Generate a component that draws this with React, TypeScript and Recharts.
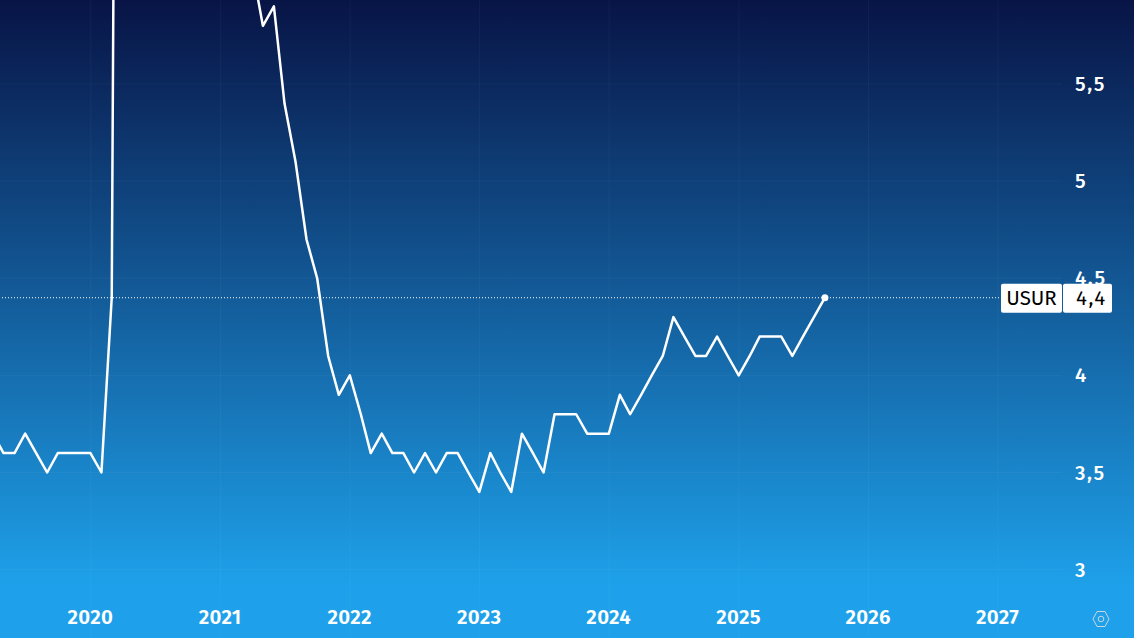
import React from "react";
import { LineChart, Line, XAxis, YAxis, CartesianGrid, ReferenceLine } from "recharts";

const months = [
  "2019-03","2019-04","2019-05","2019-06","2019-07","2019-08","2019-09","2019-10","2019-11","2019-12",
  "2020-01","2020-02","2020-03","2020-04","2020-05","2020-06","2020-07","2020-08","2020-09","2020-10","2020-11","2020-12",
  "2021-01","2021-02","2021-03","2021-04","2021-05","2021-06","2021-07","2021-08","2021-09","2021-10","2021-11","2021-12",
  "2022-01","2022-02","2022-03","2022-04","2022-05","2022-06","2022-07","2022-08","2022-09","2022-10","2022-11","2022-12",
  "2023-01","2023-02","2023-03","2023-04","2023-05","2023-06","2023-07","2023-08","2023-09","2023-10","2023-11","2023-12",
  "2024-01","2024-02","2024-03","2024-04","2024-05","2024-06","2024-07","2024-08","2024-09","2024-10","2024-11","2024-12",
  "2025-01","2025-02","2025-03","2025-04","2025-05","2025-06","2025-07","2025-08",
];
const unemployment = [
  3.7,3.6,3.6,3.7,3.6,3.5,3.6,3.6,3.6,3.6,
  3.5,4.4,14.8,13.2,11.0,10.2,8.4,7.8,6.9,6.7,6.7,6.4,
  6.2,6.1,6.1,5.8,5.9,5.4,5.1,4.7,4.5,4.1,3.9,4.0,
  3.8,3.6,3.7,3.6,3.6,3.5,3.6,3.5,3.6,3.6,3.5,3.4,
  3.6,3.5,3.4,3.7,3.6,3.5,3.8,3.8,3.8,3.7,3.7,3.7,
  3.9,3.8,3.9,4.0,4.1,4.3,4.2,4.1,4.1,4.2,4.1,4.0,
  4.1,4.2,4.2,4.2,4.1,4.2,4.3,4.4,
];
const yearTicks = [2020, 2021, 2022, 2023, 2024, 2025, 2026, 2027];
const valueTicks = [3, 3.5, 4, 4.5, 5, 5.5];
const symbol = "USUR";
const lastValue = 4.4;

const W = 1134, H = 638, PLOT_W = 1062;
const PX_PER_YEAR = 129.6, X_2020 = 90.8;
const YEAR_MS = 365.25 * 86400000;
const t2020 = Date.UTC(2020, 0, 1);
const xDomain = [t2020 - (X_2020 / PX_PER_YEAR) * YEAR_MS, t2020 + ((PLOT_W - X_2020) / PX_PER_YEAR) * YEAR_MS];
const FONT = "'Fira Sans', 'Open Sans', 'Noto Sans', sans-serif";

const monthEnd = (m: string) => {
  const [y, mo] = m.split("-").map(Number);
  return Date.UTC(y, mo, 0);
};
const data = months.map((m, i) => ({ t: monthEnd(m), v: unemployment[i] }));
const fmt = (v: number) => String(v).replace(".", ",");

const YTick = (p: any) => (
  <text x={1075} y={p.y + 7} fill="#fff" fontSize={20.5} fontWeight={500} letterSpacing={1.5} fontFamily={FONT} textAnchor="start">
    {fmt(p.payload.value)}
  </text>
);
const XTick = (p: any) => (
  <text x={p.x - 0.5} y={624} fill="#fff" fontSize={20.5} fontWeight={600} letterSpacing={0.3} fontFamily={FONT} textAnchor="middle">
    {new Date(p.payload.value).getUTCFullYear()}
  </text>
);
const Badge = (p: any) => {
  const y = p.viewBox.y;
  return (
    <g fontFamily={FONT} fontSize={20.5} fontWeight={400}>
      <rect x={1001} y={y - 14} width={61} height={29} rx={2} fill="#fff" />
      <rect x={1063} y={y - 14} width={49} height={29} rx={2} fill="#fff" />
      <text x={1031.5} y={y + 7} fill="#000" textAnchor="middle">{symbol}</text>
      <text x={1076} y={y + 7} fill="#000" textAnchor="start" letterSpacing={1.5}>{fmt(lastValue)}</text>
    </g>
  );
};
const EndDot = (p: any) =>
  p.index === data.length - 1 ? <circle key="end" cx={p.cx} cy={p.cy} r={3.5} fill="#fff" /> : <g key={p.index} />;

export default function App() {
  return (
    <div style={{ position: "absolute", left: 0, top: 0, width: W, height: H, overflow: "hidden",
      background: "linear-gradient(180deg, #081446 0%, #1ea1ea 92%, #1ea1ea 100%)" }}>
      <LineChart width={W} height={H} data={data} margin={{ top: 0, right: 0, bottom: 0, left: 0 }}>
        <CartesianGrid stroke="rgba(255,255,255,0.04)" strokeWidth={1}
          horizontalValues={valueTicks} verticalValues={yearTicks.map((y) => Date.UTC(y, 0, 1))} />
        <XAxis dataKey="t" type="number" scale="linear" domain={xDomain} allowDataOverflow
          ticks={yearTicks.map((y) => Date.UTC(y, 0, 1))} tick={XTick} axisLine={false} tickLine={false} height={1} interval={0} />
        <YAxis orientation="right" type="number" domain={[2.653, 5.933]} allowDataOverflow
          ticks={valueTicks} tick={YTick} axisLine={false} tickLine={false} width={72} interval={0} />
        <Line dataKey="v" stroke="#fff" strokeWidth={2.5} dot={EndDot} activeDot={false} isAnimationActive={false} strokeLinejoin="round" />
        <ReferenceLine y={lastValue} stroke="#fff" strokeWidth={1} strokeDasharray="1 2" label={Badge} ifOverflow="visible" />
      </LineChart>
      <svg width={30} height={30} style={{ position: "absolute", left: 1086, top: 604 }}>
        <polygon points="7,15 11,7.5 19,7.5 23,15 19,22.5 11,22.5" fill="none" stroke="#c9d6de" strokeWidth={1} />
        <circle cx={15} cy={15} r={2.8} fill="none" stroke="#c9d6de" strokeWidth={1} />
      </svg>
    </div>
  );
}
